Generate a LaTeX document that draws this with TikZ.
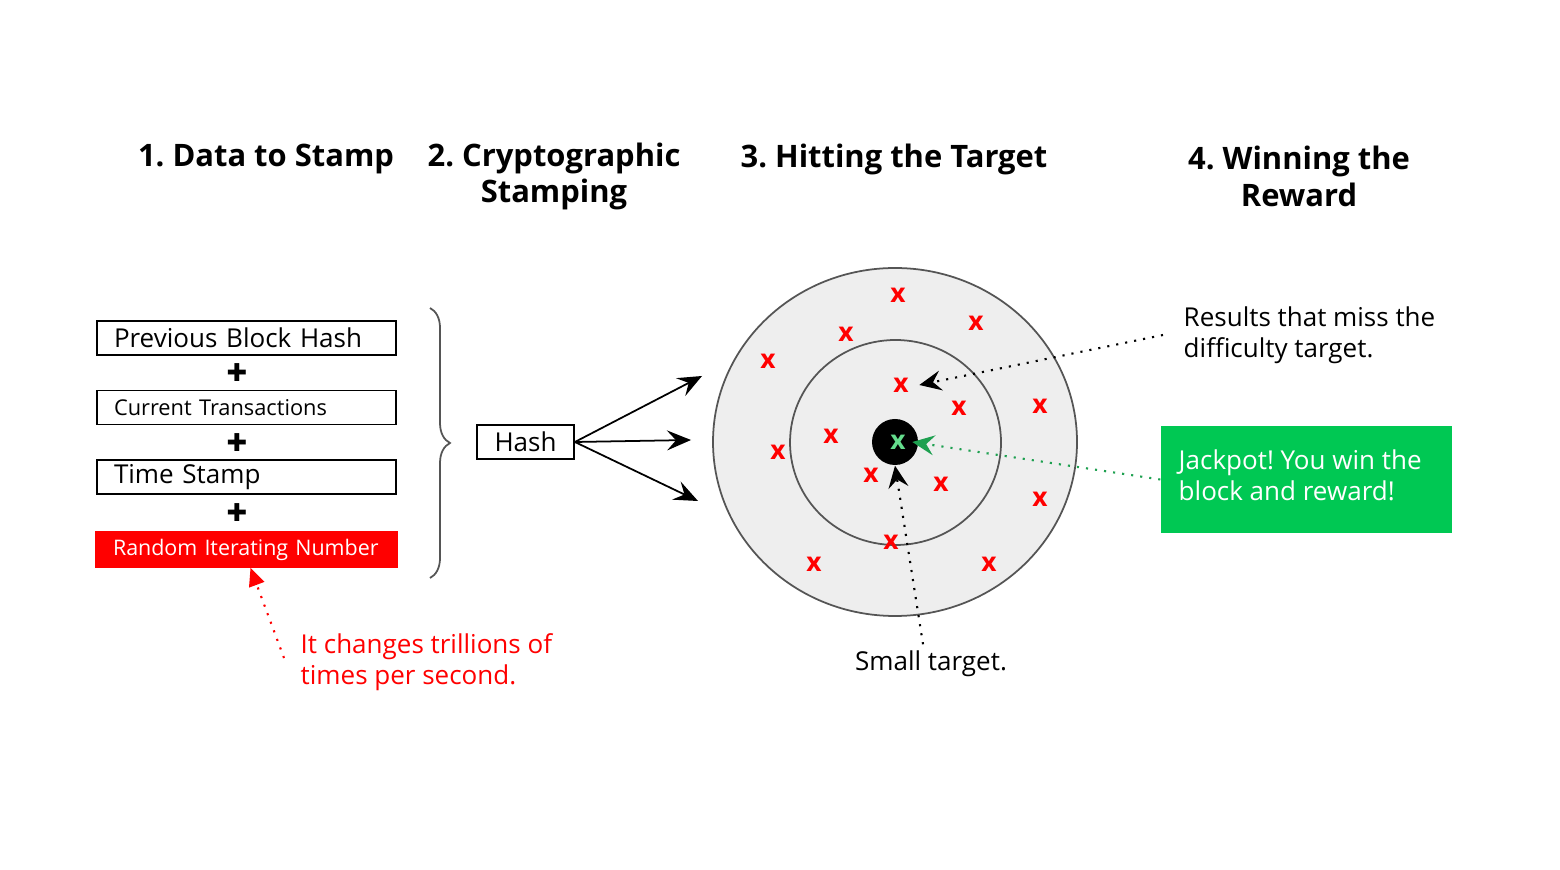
\documentclass[tikz,border=0pt]{standalone}
\usepackage{fontspec}
\setmainfont{Open Sans}
\newfontfamily\symfont{DejaVu Sans}
\usetikzlibrary{arrows.meta,decorations.pathreplacing}
\frenchspacing
\hyphenpenalty=10000
\definecolor{hitred}{RGB}{255,0,0}
\definecolor{jackgreen}{RGB}{0,200,83}
\definecolor{hitgreen}{RGB}{100,220,140}
\definecolor{pathgreen}{RGB}{30,160,80}
\definecolor{ringgray}{RGB}{85,85,85}
\definecolor{ringfill}{RGB}{238,238,238}
\tikzset{
	title/.style={font=\fontsize{8.8}{10.5}\selectfont\bfseries, align=center},
	body/.style={font=\fontsize{7.4}{8.9}\selectfont},
	datbox/.style={draw, line width=0.5pt, minimum width=2.99cm, minimum height=0.34cm, text width=2.65cm, inner xsep=0.17cm, inner ysep=0pt, align=left, body},
	plus/.style={font=\symfont\fontsize{7}{7}\selectfont},
	miss/.style={text=hitred, font=\fontsize{7.5}{7.5}\selectfont\bfseries, inner sep=0pt},
	hit/.style={miss, text=hitgreen},
	note/.style={body, align=left, anchor=west, inner sep=0pt}
}

\begin{document}
\begin{tikzpicture}
			%%%%% START %%%%%
			\useasboundingbox (0, 0) rectangle (15.6, -8.7);
			
			\node[title] (t1) at (2.66, -1.59) {1. Data to Stamp};
			\node[title] (t2) at (5.54, -1.765) {2. Cryptographic\\Stamping};
			\node[title] (t3) at (8.94, -1.59) {3. Hitting the Target};
			\node[title] (t4) at (12.99, -1.765) {4. Winning the\\Reward};
			
			\node[datbox] (prev) at (2.465, -3.38) {Previous Block Hash};
			\node[plus] (p1) at (2.37, -3.73) {✚};
			\node[datbox, font=\fontsize{6.2}{7}\selectfont] (trans) at (2.465, -4.075) {Current Transactions};
			\node[plus] (p2) at (2.37, -4.43) {✚};
			\node[datbox] (time) at (2.465, -4.77) {Time Stamp};
			\node[plus] (p3) at (2.37, -5.13) {✚};
			\node[datbox, fill=hitred, draw=hitred, text=white, minimum width=3.01cm, minimum height=0.35cm, text width=2.67cm, font=\fontsize{6.1}{7}\selectfont] (rand) at (2.465, -5.495) {Random Iterating Number};
			
			\draw[ringgray, line width=0.5pt, decorate, decoration={brace, amplitude=0.2cm}] (4.30, -3.08) -- (4.30, -5.78);
			
			\node[draw, line width=0.5pt, minimum width=0.97cm, minimum height=0.34cm, inner sep=0pt, body] (hash) at (5.255, -4.42) {Hash};
			
			\coordinate (aim1) at (7.02, -3.76);
			\coordinate (aim2) at (6.91, -4.40);
			\coordinate (aim3) at (6.98, -5.01);
			\foreach \a in {aim1, aim2, aim3}
				\draw[line width=0.5pt, -{Stealth[length=2.4mm, width=2mm, inset=0.9mm]}] (hash.east) -- (\a);
			
			% target
			\draw[ringgray, fill=ringfill, line width=0.5pt] (8.95, -4.42) ellipse [x radius=1.82cm, y radius=1.74cm];
			\draw[ringgray, line width=0.5pt] (8.955, -4.425) ellipse [x radius=1.055cm, y radius=1.025cm];
			\node[circle, fill=black, minimum size=0.46cm, inner sep=0pt] (dot) at (8.95, -4.42) {};
			\node[hit] (goal) at (8.98, -4.42) {x};
			
			\foreach \n/\px/\py in {1/8.98/2.95, 2/9.76/3.23, 3/8.46/3.34, 4/7.68/3.61, 5/9.01/3.85,
				6/9.59/4.08, 7/10.40/4.06, 8/7.78/4.52, 9/8.31/4.36, 10/8.71/4.75,
				11/9.41/4.84, 12/10.40/4.99, 13/8.91/5.42, 14/8.14/5.64, 15/9.89/5.64}
				\node[miss] (m\n) at (\px, -\py) {x};
			
			% notes
			\node[note] (res) at (11.83, -3.35) {Results that miss the\\difficulty target.};
			\node[fill=jackgreen, minimum width=2.91cm, minimum height=1.07cm, inner sep=0pt] (jack) at (13.065, -4.795) {};
			\node[note, text=white] (jacktext) at (11.78, -4.755) {Jackpot! You win the\\block and reward!};
			\node[body, inner sep=0pt] (small) at (9.31, -6.64) {Small target.};
			\node[note, text=hitred] (chg) at (3.00, -6.62) {It changes trillions of\\times per second.};
			
			\draw[dotted, line width=0.6pt, -{Stealth[length=2.2mm, width=2mm, inset=0.8mm]}] ([xshift=-0.2cm]res.west) -- ([xshift=0.1cm]m5.east);
			\draw[dotted, pathgreen, line width=0.6pt, -{Stealth[length=2.2mm, width=2mm, inset=0.8mm]}] (jack.west) -- ([xshift=0.06cm]goal.east);
			\draw[dotted, line width=0.6pt, -{Stealth[length=2.2mm, width=2mm, inset=0.8mm]}] ([xshift=-0.08cm, yshift=0.06cm]small.north) -- (dot.south);
			\draw[dotted, hitred, line width=0.6pt, -{Triangle[length=1.8mm, width=1.6mm]}] ([xshift=-0.16cm, yshift=0.04cm]chg.west) -- ([xshift=0.04cm]rand.south);
			
			%%%%% END %%%%%
\end{tikzpicture}
\end{document}
